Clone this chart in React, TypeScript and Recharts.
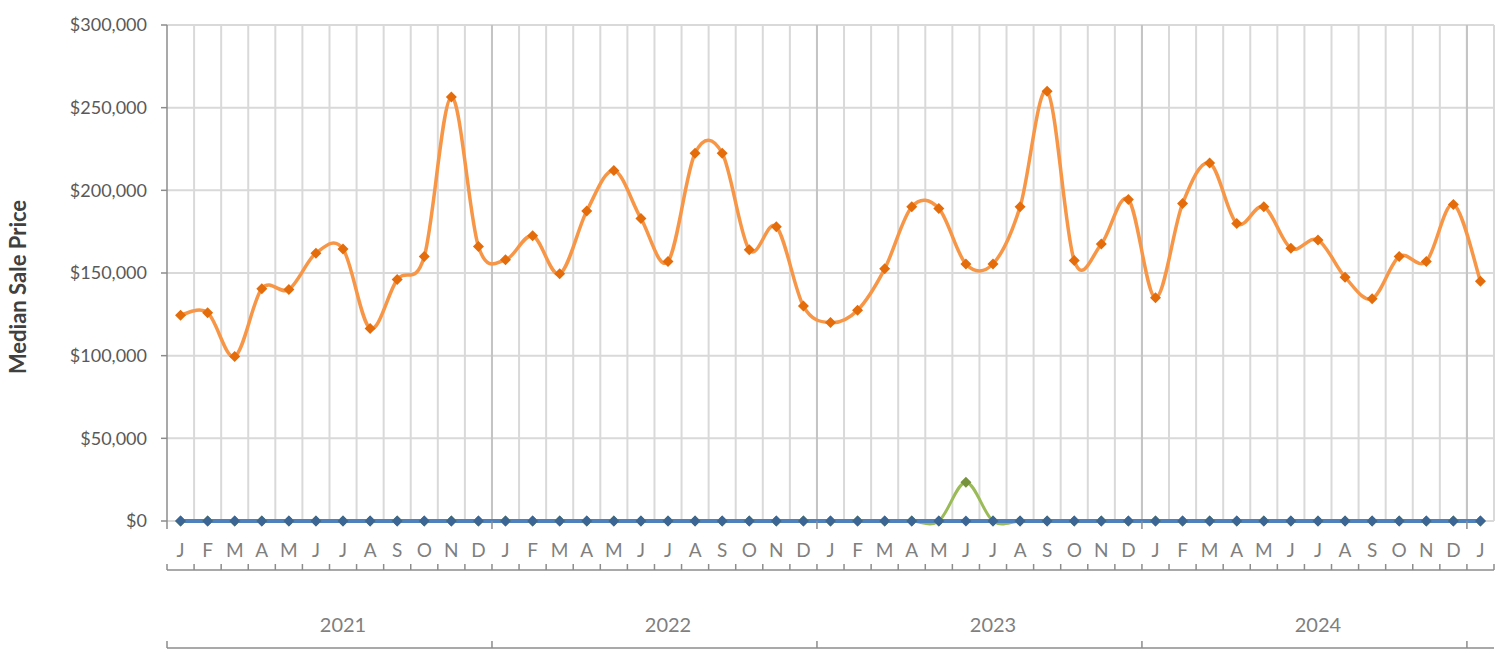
import React from 'react';
import { LineChart, Line, XAxis, YAxis, CartesianGrid } from 'recharts';

const monthLetters = ['J', 'F', 'M', 'A', 'M', 'J', 'J', 'A', 'S', 'O', 'N', 'D'];
const years = ['2021', '2022', '2023', '2024', '2025'];

// orange series, Jan 2021 .. Jan 2025
const priceA = [
  124500, 126000, 99500, 140500, 140000, 162000, 164500, 116500, 146000, 160000, 256500, 166000,
  158000, 172500, 149500, 187500, 212000, 183000, 157000, 222500, 222500, 164000, 178000, 130000,
  120000, 127500, 152500, 190000, 189000, 155500, 155500, 190000, 260000, 157500, 167500, 194500,
  135000, 192000, 216500, 180000, 190000, 165000, 170000, 147500, 134500, 160000, 157000, 191500,
  145000,
];

// green series
const priceB = [
  0, 0, 0, 0, 0, 0, 0, 0, 0, 0, 0, 0,
  0, 0, 0, 0, 0, 0, 0, 0, 0, 0, 0, 0,
  0, 0, 0, 0, 0, 23500, 0, 0, 0, 0, 0, 0,
  0, 0, 0, 0, 0, 0, 0, 0, 0, 0, 0, 0,
  0,
];

// blue series
const priceC = [
  0, 0, 0, 0, 0, 0, 0, 0, 0, 0, 0, 0,
  0, 0, 0, 0, 0, 0, 0, 0, 0, 0, 0, 0,
  0, 0, 0, 0, 0, 0, 0, 0, 0, 0, 0, 0,
  0, 0, 0, 0, 0, 0, 0, 0, 0, 0, 0, 0,
  0,
];

const yTicks = [0, 50000, 100000, 150000, 200000, 250000, 300000];

const data = priceA.map((v, i) => ({
  key: `${years[Math.floor(i / 12)]}-${i % 12}`,
  month: monthLetters[i % 12],
  year: years[Math.floor(i / 12)],
  priceA: v,
  priceB: priceB[i],
  priceC: priceC[i],
}));

const WIDTH = 1505;
const HEIGHT = 656;
const MARGIN = { top: 25, right: 11, left: 0, bottom: 0 };
const Y_AXIS_WIDTH = 167;
const PLOT_W = WIDTH - MARGIN.left - MARGIN.right - Y_AXIS_WIDTH;
const BAND = PLOT_W / data.length;
const FONT = "Lato, 'Open Sans', sans-serif";
const AXIS_GRAY = '#8c8c8c';

// Excel-like smoothed line (Catmull-Rom through every point)
const smoothCurve = (context: any) => {
  let pts: number[][] = [];
  return {
    areaStart() {},
    areaEnd() {},
    lineStart() {
      pts = [];
    },
    point(x: number, y: number) {
      pts.push([+x, +y]);
    },
    lineEnd() {
      if (!pts.length) return;
      context.moveTo(pts[0][0], pts[0][1]);
      for (let i = 0; i < pts.length - 1; i++) {
        const p0 = pts[i - 1] || pts[i];
        const p1 = pts[i];
        const p2 = pts[i + 1];
        const p3 = pts[i + 2] || p2;
        context.bezierCurveTo(
          p1[0] + (p2[0] - p0[0]) / 6,
          p1[1] + (p2[1] - p0[1]) / 6,
          p2[0] - (p3[0] - p1[0]) / 6,
          p2[1] - (p3[1] - p1[1]) / 6,
          p2[0],
          p2[1]
        );
      }
    },
  };
};

const diamond = (color: string) => (props: any) => {
  const { cx, cy, index } = props;
  if (cx == null || cy == null) return <g key={`d-${index}`} />;
  const r = 5.5;
  return (
    <path
      key={`d-${index}`}
      d={`M${cx},${cy - r}L${cx + r},${cy}L${cx},${cy + r}L${cx - r},${cy}Z`}
      fill={color}
    />
  );
};

const MonthTick = (props: any) => {
  const { x, y, index } = props;
  const left = x - BAND / 2;
  return (
    <g>
      <text x={x} y={y + 36} textAnchor="middle" fill="#7f7f7f" fontSize={19} fontFamily={FONT}>
        {data[index].month}
      </text>
      {index % 12 === 0 && (
        <line x1={left} x2={left} y1={y} y2={y + 8} stroke={AXIS_GRAY} strokeWidth={1.5} />
      )}
    </g>
  );
};

const YearTick = (props: any) => {
  const { x, y, index } = props;
  const left = x - BAND / 2;
  const m = index % 12;
  const span = Math.min(12, data.length - index) * BAND;
  return (
    <g>
      <line x1={left} x2={left} y1={y - 6} y2={y} stroke={AXIS_GRAY} strokeWidth={1.5} />
      {index === data.length - 1 && (
        <line x1={x + BAND / 2} x2={x + BAND / 2} y1={y - 6} y2={y} stroke={AXIS_GRAY} strokeWidth={1.5} />
      )}
      {m === 0 && (
        <g>
          <line x1={left} x2={left + span} y1={y + 78} y2={y + 78} stroke={AXIS_GRAY} strokeWidth={1.5} />
          <line x1={left} x2={left} y1={y + 71} y2={y + 78} stroke={AXIS_GRAY} strokeWidth={1.5} />
        </g>
      )}
      {m === 6 && (
        <text x={x} y={y + 62} textAnchor="middle" fill="#7f7f7f" fontSize={20} fontFamily={FONT}>
          {data[index].year}
        </text>
      )}
    </g>
  );
};

const TitleLabel = (props: any) => {
  const vb = props.viewBox || { y: 25, height: 496 };
  const cx = 17;
  const cy = vb.y + vb.height / 2 + 14;
  return (
    <text
      x={cx}
      y={cy}
      transform={`rotate(-90 ${cx} ${cy})`}
      textAnchor="middle"
      dominantBaseline="central"
      fontSize={22}
      fontWeight={700}
      fill="#404040"
      fontFamily={FONT}
    >
      Median Sale Price
    </text>
  );
};

const monthLines = ({ offset }: any) =>
  data.map((_, i) => offset.left + (i + 1) * (offset.width / data.length));

const yearLines = ({ offset }: any) =>
  data
    .map((_, i) => i)
    .filter((i) => i > 0 && i % 12 === 0)
    .map((i) => offset.left + i * (offset.width / data.length));

const fmt = (v: number) => '$' + v.toLocaleString('en-US');

export default function App() {
  return (
    <div style={{ position: 'absolute', left: 0, top: 0, background: '#fff' }}>
      <LineChart width={WIDTH} height={HEIGHT} data={data} margin={MARGIN}>
        <CartesianGrid vertical={false} stroke="#d9d9d9" strokeWidth={2} />
        <CartesianGrid horizontal={false} stroke="#d9d9d9" strokeWidth={2} verticalCoordinatesGenerator={monthLines} />
        <CartesianGrid horizontal={false} stroke="#c4c4c4" strokeWidth={2} verticalCoordinatesGenerator={yearLines} />
        <XAxis
          xAxisId="month"
          dataKey="key"
          scale="band"
          height={49}
          interval={0}
          axisLine={false}
          tickLine={false}
          tickSize={0}
          tickMargin={0}
          tick={<MonthTick />}
        />
        <XAxis
          xAxisId="year"
          dataKey="key"
          scale="band"
          height={86}
          interval={0}
          axisLine={{ stroke: AXIS_GRAY, strokeWidth: 1.5 }}
          tickLine={false}
          tickSize={0}
          tickMargin={0}
          tick={<YearTick />}
        />
        <YAxis
          width={Y_AXIS_WIDTH}
          domain={[0, 300000]}
          ticks={yTicks}
          interval={0}
          tickFormatter={fmt}
          tick={{ fill: '#595959', fontSize: 18, fontFamily: FONT }}
          axisLine={{ stroke: AXIS_GRAY, strokeWidth: 1.5 }}
          tickLine={{ stroke: AXIS_GRAY, strokeWidth: 1.5 }}
          tickSize={6}
          tickMargin={14}
          label={TitleLabel}
        />
        <Line
          xAxisId="month"
          dataKey="priceB"
          type={smoothCurve as any}
          stroke="#9bbb59"
          strokeWidth={3}
          dot={diamond('#77933c')}
          activeDot={false}
          isAnimationActive={false}
        />
        <Line
          xAxisId="month"
          dataKey="priceC"
          type={smoothCurve as any}
          stroke="#4f81bd"
          strokeWidth={4}
          dot={diamond('#3a6595')}
          activeDot={false}
          isAnimationActive={false}
        />
        <Line
          xAxisId="month"
          dataKey="priceA"
          type={smoothCurve as any}
          stroke="#f79646"
          strokeWidth={3.5}
          dot={diamond('#e46c0a')}
          activeDot={false}
          isAnimationActive={false}
        />
      </LineChart>
    </div>
  );
}
